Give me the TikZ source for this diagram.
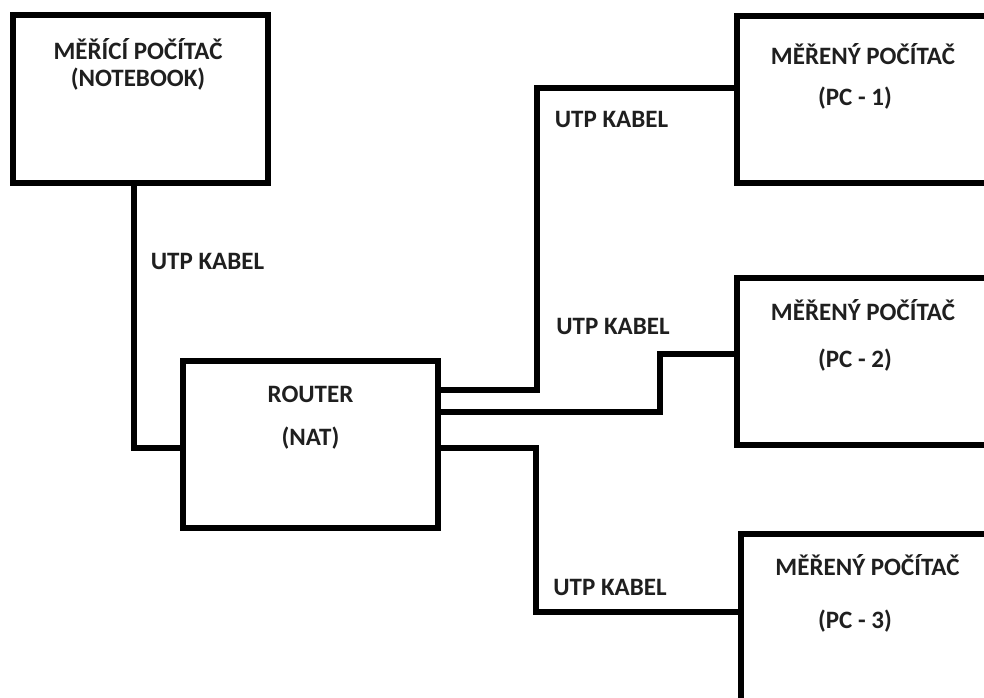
\documentclass[tikz,border=0pt]{standalone}
\usepackage{fontspec}
\setmainfont{Carlito}
\begin{document}
\begin{tikzpicture}[x=1pt,y=1pt,
  box/.style={draw=black,line width=5.5pt,minimum width=255pt,minimum height=167pt,inner sep=0pt,fill=white},
  pcbox/.style={box,minimum width=300pt},
  wire/.style={draw=black,line width=5.5pt},
  txt/.style={anchor=base,inner sep=0pt,font=\bfseries\fontsize{25}{29}\selectfont,text=black!88}]
\useasboundingbox (0,0) rectangle (984,697);
\clip (0,0) rectangle (984,697);
\fill[white] (0,0) rectangle (984,697);
% boxes
\node[box,minimum height=168pt] (nb) at (140.5,598) {};
\node[box] (router) at (310.5,252.5) {};
\node[pcbox] (pc1) at (887,597.5) {};
\node[pcbox] (pc2) at (887,335.5) {};
\node[pcbox] (pc3) at (891,79.5) {};
% connectors
\draw[wire] ([xshift=-6.5pt]nb.south) |- ([yshift=-3.5pt]router.west);
\draw[wire] ([yshift=54.5pt]router.east) -- ++(96,0) |- ([yshift=11.5pt]pc1.west);
\draw[wire] ([yshift=32.5pt]router.east) -- ++(219,0) |- ([yshift=7.5pt]pc2.west);
\draw[wire] ([yshift=-3.5pt]router.east) -- ++(95,0) |- ([yshift=5.5pt]pc3.west);
% texts
\node[txt] (nbt1) at (138,637) {MĚŘÍCÍ POČÍTAČ};
\node[txt] (nbt2) at (138,610) {(NOTEBOOK)};
\node[txt] (rt1) at (310.5,295) {ROUTER};
\node[txt] (rt2) at (310.5,252) {(NAT)};
\node[txt] (p1t1) at (863,632) {MĚŘENÝ POČÍTAČ};
\node[txt] (p1t2) at (855,591) {(PC - 1)};
\node[txt] (p2t1) at (863,377) {MĚŘENÝ POČÍTAČ};
\node[txt] (p2t2) at (855,330) {(PC - 2)};
\node[txt] (p3t1) at (867.5,122) {MĚŘENÝ POČÍTAČ};
\node[txt] (p3t2) at (855,69) {(PC - 3)};
\node[txt] (u1) at (207.5,427) {UTP KABEL};
\node[txt] (u2) at (611.5,569) {UTP KABEL};
\node[txt] (u3) at (613,363) {UTP KABEL};
\node[txt] (u4) at (610,102) {UTP KABEL};
\end{tikzpicture}
\end{document}
